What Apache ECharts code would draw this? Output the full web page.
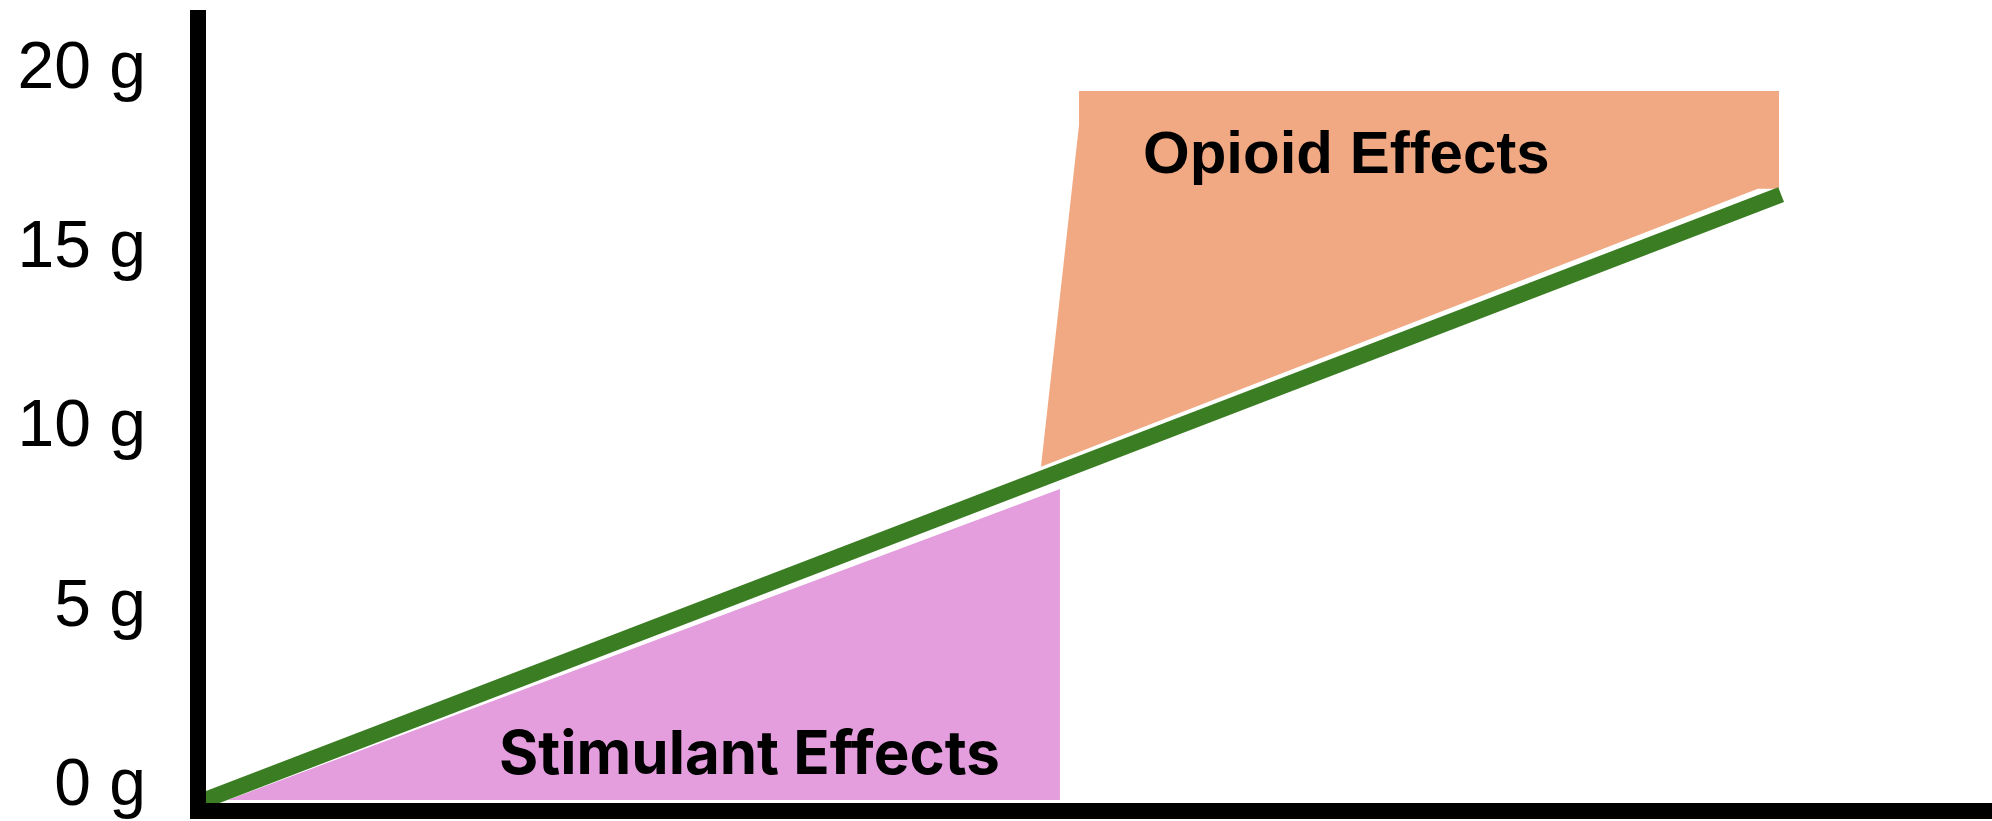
<!DOCTYPE html>
<html>
<head>
<meta charset="utf-8">
<script src="https://cdn.jsdelivr.net/npm/echarts@6/dist/echarts.min.js"></script>
<style>
  html, body { margin: 0; padding: 0; background: #fff; }
</style>
</head>
<body>
<div id="doseChart" style="width: 1992px; height: 821px;"></div>
<script>
// tick values on the y axis (grams)
const yTicks = [0, 5, 10, 15, 20]

// main dose line: [x, grams]
const doseLine = [[0, 0], [88.2, 16.9]]

// opioid effects region (polygon vertices, [x, grams])
const opioidArea = [[48.91, 19.79], [48.91, 18.84], [46.78, 9.3], [86.9, 17.06], [88.08, 17.06], [88.08, 19.79]]

// stimulant effects region
const stimulantArea = [[1.29, 0], [47.84, 8.68], [47.84, 0]]

const chart = echarts.init(document.getElementById('doseChart'))

function polygonItem(points, color) {
  return function (params, api) {
    if (params.dataIndex !== 0) return null
    return {
      type: 'polygon',
      shape: { points: points.map(p => api.coord(p)) },
      style: { fill: color }
    }
  }
}

chart.setOption({
  backgroundColor: '#fff',
  animation: false,
  grid: { left: 190, right: 0, top: 18, bottom: 21, outerBoundsMode: 'none', containLabel: false },
  xAxis: {
    type: 'value',
    min: -0.84,
    max: 100,
    offset: 11,
    z: 10,
    axisLine: { show: true, onZero: false, lineStyle: { color: '#000', width: 16, cap: 'butt' } },
    axisTick: { show: false },
    axisLabel: { show: false },
    splitLine: { show: false }
  },
  yAxis: {
    type: 'value',
    min: 0,
    max: 21.83,
    interval: 5,
    offset: -8,
    z: 10,
    axisLine: { show: true, onZero: false, lineStyle: { color: '#000', width: 16, cap: 'square' } },
    axisTick: { show: false },
    splitLine: { show: false },
    axisLabel: {
      margin: 52,
      fontFamily: 'Liberation Sans',
      fontSize: 66,
      color: '#000',
      // labels sit a little above their ticks in the original
      verticalAlign: 'bottom',
      lineHeight: 27,
      formatter: v => (yTicks.indexOf(v) >= 0 ? v + ' g' : '')
    }
  },
  series: [
    {
      type: 'custom',
      renderItem: polygonItem(opioidArea, '#F1A983'),
      data: opioidArea,
      clip: false,
      z: 1
    },
    {
      type: 'custom',
      renderItem: polygonItem(stimulantArea, '#E49EDD'),
      data: stimulantArea,
      clip: false,
      z: 1
    },
    {
      type: 'line',
      data: doseLine,
      symbol: 'none',
      lineStyle: { color: '#3B7D23', width: 16 },
      z: 3
    }
  ],
  graphic: [
    {
      type: 'text',
      x: 1143,
      y: 156,
      z: 100,
      style: {
        text: 'Opioid Effects',
        font: 'bold 60px "Liberation Sans"',
        fill: '#000',
        verticalAlign: 'middle'
      }
    },
    {
      type: 'text',
      x: 499,
      y: 756,
      z: 100,
      style: {
        text: 'Stimulant Effects',
        font: 'bold 60px Inter',
        fill: '#000',
        verticalAlign: 'middle'
      }
    }
  ]
})
</script>
</body>
</html>
